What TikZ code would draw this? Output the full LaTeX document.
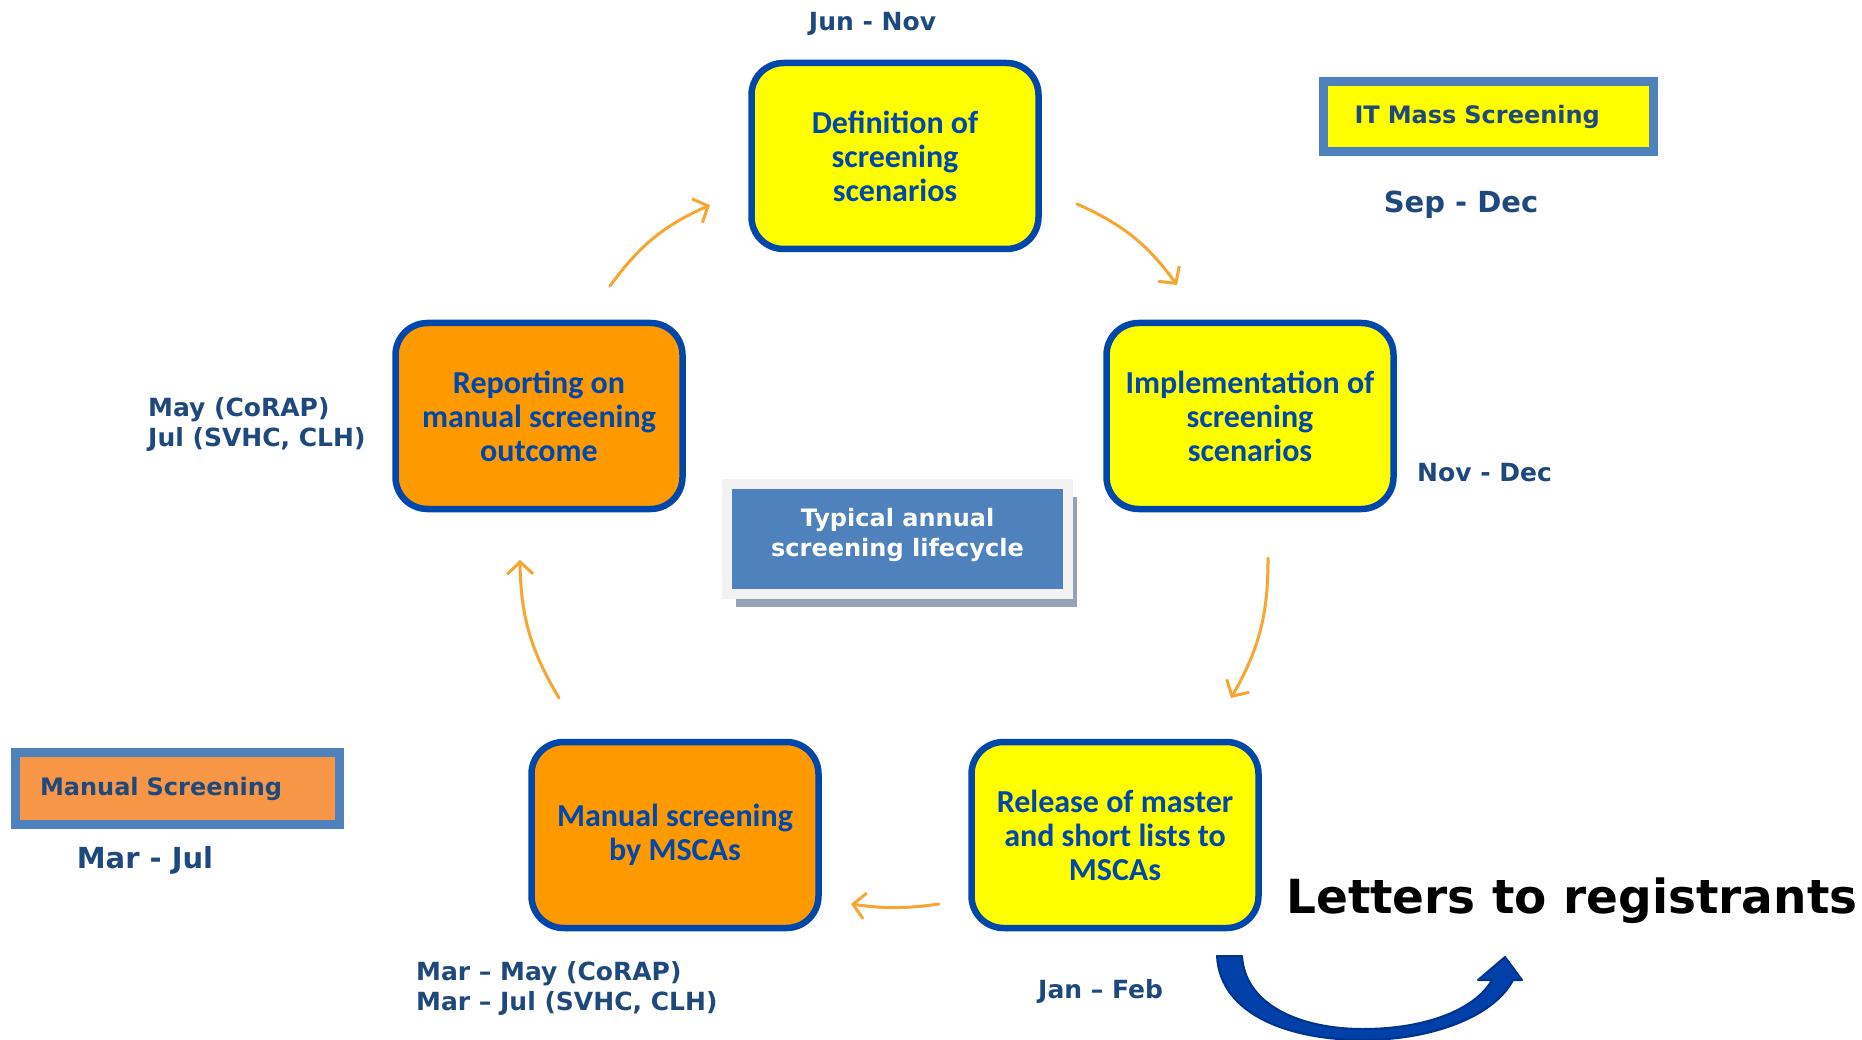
\documentclass[tikz,border=0pt]{standalone}
\usepackage{fontspec}
\setmainfont{DejaVu Sans}
\newfontfamily\stagefont{Carlito}
\usepackage{tikz}
\usetikzlibrary{arrows.meta,positioning,calc,shadows}
\definecolor{stageblue}{RGB}{0,71,171}
\definecolor{stageyellow}{RGB}{255,255,0}
\definecolor{stageorange}{RGB}{255,153,0}
\definecolor{labelblue}{RGB}{31,73,125}
\definecolor{legendblue}{RGB}{79,129,189}
\definecolor{legendorange}{RGB}{247,150,70}
\definecolor{flowarrow}{RGB}{248,165,50}
\definecolor{hubgray}{RGB}{242,242,242}
\definecolor{hubshadow}{RGB}{150,163,180}
\definecolor{bigarrow}{RGB}{0,64,168}
\definecolor{bigarrowline}{RGB}{0,52,140}

\begin{document}
\begin{tikzpicture}[x=1pt, y=-1pt,
    stage/.style={rectangle, rounded corners=32pt, draw=stageblue, line width=6.5pt,
        minimum width=287pt, minimum height=186pt, align=center, text=stageblue,
        font=\stagefont\bfseries\fontsize{32}{34}\selectfont},
    itstage/.style={stage, fill=stageyellow},
    manstage/.style={stage, fill=stageorange},
    period/.style={anchor=west, align=left, text=labelblue, inner xsep=0pt,
        font=\bfseries\fontsize{25}{30}\selectfont},
    bigperiod/.style={period, font=\bfseries\fontsize{29}{34}\selectfont},
    legend/.style={rectangle, draw=legendblue, line width=9pt, align=left, text=labelblue,
        inner ysep=0pt, font=\bfseries\fontsize{24}{28}\selectfont},
    hub/.style={rectangle, fill=legendblue, draw=hubgray, line width=10pt,
        minimum width=341pt, minimum height=110pt, align=center, text=white, text depth=13pt,
        font=\bfseries\fontsize{24}{30}\selectfont,
        drop shadow={shadow xshift=9pt, shadow yshift=-13pt, fill=hubshadow, opacity=1}},
    flow/.style={-{Straight Barb[length=12pt,width=26pt]}, flowarrow, line width=3pt, line cap=round}
]
\useasboundingbox (0,0) rectangle (1862,1040);

% the five stages of the cycle
\node[itstage] (definition) at (895,156) {Definition of\\screening\\scenarios};
\node[itstage] (implementation) at (1250,416) {Implementation of\\screening\\scenarios};
\node[itstage] (release) at (1115,835) {Release of master\\and short lists to\\MSCAs};
\node[manstage] (manual) at (675,835) {Manual screening\\by MSCAs};
\node[manstage] (reporting) at (539,416) {Reporting on\\manual screening\\outcome};

% centre box
\node[hub] (lifecycle) at (897.5,539) {Typical annual\\screening lifecycle};

% arrows between the stages
\coordinate (a1) at (610,286); \coordinate (b1) at (710,205);
\coordinate (a2) at (1077,204); \coordinate (b2) at (1177,285);
\coordinate (a3) at (1268,558); \coordinate (b3) at (1231,698);
\coordinate (a4) at (939,904); \coordinate (b4) at (851,904);
\coordinate (a5) at (559,698); \coordinate (b5) at (520,560);
\draw[flow] (a1) to[bend left=15] (b1);
\draw[flow] (a2) to[bend left=15] (b2);
\draw[flow] (a3) to[bend left=15] (b3);
\draw[flow] (a4) to[bend left=8] (b4);
\draw[flow] (a5) to[bend left=15] (b5);

% periods
\node[period, anchor=center] (p1) at (872.5,24) {Jun - Nov};
\node[period] (p2) at (1417,473) {Nov - Dec};
\node[period] (p3) at (1038,991) {Jan – Feb};
\node[period] (p4) at (416,988.5) {Mar – May (CoRAP)\\Mar – Jul (SVHC, CLH)};
\node[period] (p5) at (148,425) {May (CoRAP)\\Jul (SVHC, CLH)};

% legend
\node[legend, fill=stageyellow, text width=268pt, inner xsep=31pt, minimum height=70pt] (itmass) at (1488.5,116.5) {IT Mass Screening};
\node[bigperiod, anchor=center] (itperiod) at (1461,205) {Sep - Dec};
\node[legend, fill=legendorange, text width=274pt, inner xsep=25pt, minimum height=72pt] (manlegend) at (177,788.5) {Manual Screening};
\node[bigperiod, anchor=center] (manperiod) at (145,860) {Mar - Jul};

% letters
\node[anchor=base west, inner xsep=0pt, font=\bfseries\fontsize{47}{50}\selectfont] (letters) at (1286,913) {Letters to registrants};
\filldraw[fill=bigarrow, draw=bigarrowline, line width=2pt, line join=round]
    (1217,956) .. controls (1220,1015) and (1290,1040) .. (1363,1040)
    .. controls (1435,1040) and (1495,1015) .. (1513,980)
    -- (1522,980) -- (1505,957) -- (1478,980) -- (1492,980)
    .. controls (1475,1010) and (1425,1029) .. (1363,1029)
    .. controls (1300,1029) and (1245,1005) .. (1242,956) -- cycle;

\end{tikzpicture}
\end{document}
